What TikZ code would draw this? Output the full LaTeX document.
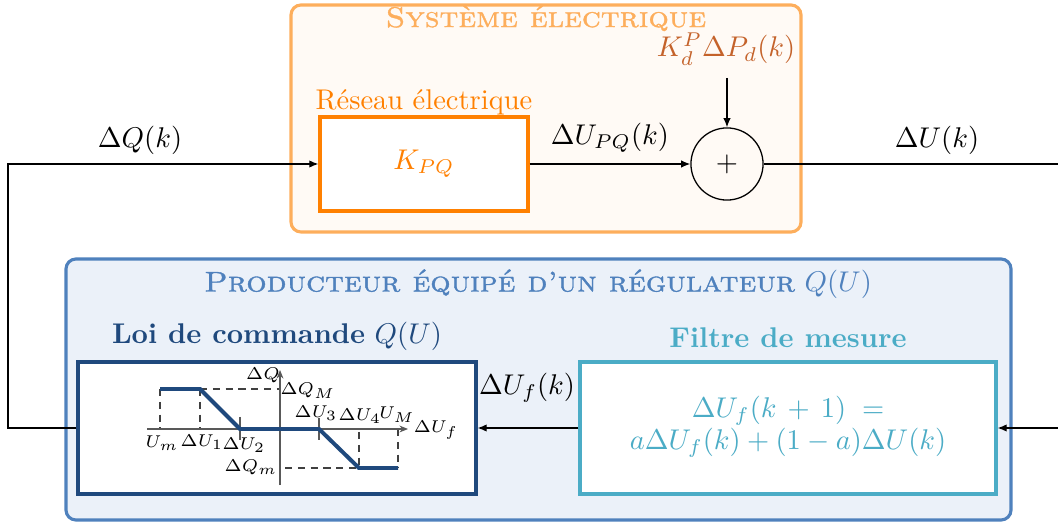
\documentclass[tikz,border=0pt]{standalone}
\usepackage{fontspec}
\usetikzlibrary{fit,arrows.meta}
\newfontfamily\grouptitlefont{lmromancaps10-regular.otf}[Ligatures=TeX, FakeBold=1.2, FakeStretch=1.12]
\definecolor{sysorange}{HTML}{FDAE5C}
\definecolor{sysfill}{HTML}{FFFAF5}
\definecolor{netorange}{HTML}{FF8000}
\definecolor{distbrown}{HTML}{C4622A}
\definecolor{prodblue}{HTML}{4F81BD}
\definecolor{prodfill}{HTML}{EBF1F9}
\definecolor{lawblue}{HTML}{1F497D}
\definecolor{filtcyan}{HTML}{4BACC6}
\tikzset{
  px/.style={x=0.35088pt,y=-0.35088pt},
  groupbox/.style={line width=1.1pt, rounded corners=3.5pt, inner sep=0pt},
  blockbox/.style={line width=1.1pt, fill=white, inner sep=0pt},
  sig/.style={line width=0.45pt, -{Latex[length=3.2pt,width=2.6pt]}},
  wire/.style={line width=0.45pt},
  lbl/.style={inner sep=0pt},
  axis/.style={line width=0.45pt, draw=black!65},
  guide/.style={line width=0.45pt, dashed, dash pattern=on 2.5pt off 2pt, draw=black!75},
  law/.style={line width=1.4pt, draw=lawblue},
  small/.style={inner sep=0pt, font=\fontsize{6.2pt}{7.5pt}\selectfont}
}
\begin{document}
\begin{tikzpicture}[px]
\useasboundingbox (0,0) rectangle (1058,523);
% group containers
\coordinate (sysNW) at (291,5); \coordinate (sysSE) at (801,232);
\node[groupbox, draw=sysorange, fill=sysfill, fit=(sysNW)(sysSE)] (sys) {};
\coordinate (prodNW) at (66,259); \coordinate (prodSE) at (1011,520);
\node[groupbox, draw=prodblue, fill=prodfill, fit=(prodNW)(prodSE)] (prod) {};
\node[lbl, text=sysorange] (systitle) at (546,18) {{\grouptitlefont Système électrique}};
\node[lbl, text=prodblue] (prodtitle) at (538,284) {{\grouptitlefont Producteur équipé d'un régulateur} $Q(U)$};
% network block
\coordinate (netNW) at (320,117); \coordinate (netSE) at (528,211);
\node[blockbox, draw=netorange, fit=(netNW)(netSE)] (net) {};
\node[lbl, text=netorange] (kpq) at (424,164) {$K_{PQ}$};
\node[lbl, text=netorange] (nettitle) at (424,102) {Réseau électrique};
% summation
\node[circle, draw, line width=0.45pt, minimum size=25.3pt, inner sep=0pt] (sum) at (727,164) {$+$};
\node[lbl, text=distbrown] (dist) at (726,49) {$K_d^P\Delta P_d(k)$};
% law block
\coordinate (lawNW) at (78,362); \coordinate (lawSE) at (476,494);
\node[blockbox, draw=lawblue, fit=(lawNW)(lawSE)] (lawbox) {};
\node[lbl, text=lawblue] (lawtitle) at (277,336) {\textbf{Loi de commande} $Q(U)$};
% filter block
\coordinate (filNW) at (580,362); \coordinate (filSE) at (996,494);
\node[blockbox, draw=filtcyan, fit=(filNW)(filSE)] (filbox) {};
\node[lbl, text=filtcyan] (filtitle) at (788,338) {\textbf{Filtre de mesure}};
\node[lbl, text=filtcyan, align=center, font=\fontsize{10pt}{11.3pt}\selectfont] (filtext) at (788,427)
  {$\Delta U_f(k\,+\,1)\;=$\\$a\Delta U_f(k)+(1-a)\Delta U(k)$};
% chart inside law block
\draw[guide] (160,389) -- (160,429);
\draw[guide] (200,389) -- (200,429);
\draw[guide] (200,389) -- (280,389);
\draw[guide] (359,432) -- (359,468);
\draw[guide] (398,429) -- (398,468);
\draw[guide] (285,468) -- (359,468);
\draw[axis, -{Stealth[length=3pt,width=2.4pt]}] (147,429) -- (408,429);
\draw[axis, -{Stealth[length=3pt,width=2.4pt]}] (280,485) -- (280,370);
\draw[axis] (240,417) -- (240,440);
\draw[axis] (319,418) -- (319,440);
\draw[law] (160,389) -- (200,389) -- (240,429) -- (319,429) -- (359,468) -- (398,468);
\node[small] (cdq) at (263,375) {$\Delta Q$};
\node[small] (cdqM) at (308,391) {$\Delta Q_M$};
\node[small] (cdu3) at (316,413) {$\Delta U_3$};
\node[small] (cdu4) at (360,416) {$\Delta U_4$};
\node[small] (cuM) at (397,415) {$U_M$};
\node[small] (cduf) at (436,430) {$\Delta U_f$};
\node[small] (cum) at (162,443) {$U_m$};
\node[small] (cdu1) at (202,442) {$\Delta U_1$};
\node[small] (cdu2) at (244,445) {$\Delta U_2$};
\node[small] (cdqm) at (251,467) {$\Delta Q_m$};
% signal wiring
\coordinate (leftTop) at (8,164);
\coordinate (leftBot) at (8,428);
\coordinate (rightTop) at (1058,164);
\coordinate (rightBot) at (1058,428);
\coordinate (distTail) at (727,78);
\draw[sig] (net.east |- sum.west) -- (sum.west);
\draw[sig] (distTail) -- (sum.north);
\draw[wire] (sum.east) -- (rightTop);
\draw[sig] (rightBot) -- (filbox.east |- rightBot);
\draw[sig] (filbox.west |- rightBot) -- (lawbox.east |- rightBot);
\draw[sig] (lawbox.west |- leftBot) -- (leftBot) -- (leftTop) -- (net.west |- leftTop);
\node[lbl] (lblduPQ) at (610,138) {$\Delta U_{PQ}(k)$};
\node[lbl] (lbldU) at (937,140) {$\Delta U(k)$};
\node[lbl] (lbldQ) at (140,140) {$\Delta Q(k)$};
\node[lbl] (lbldUf) at (527,388) {$\Delta U_f(k)$};
\end{tikzpicture}
\end{document}
